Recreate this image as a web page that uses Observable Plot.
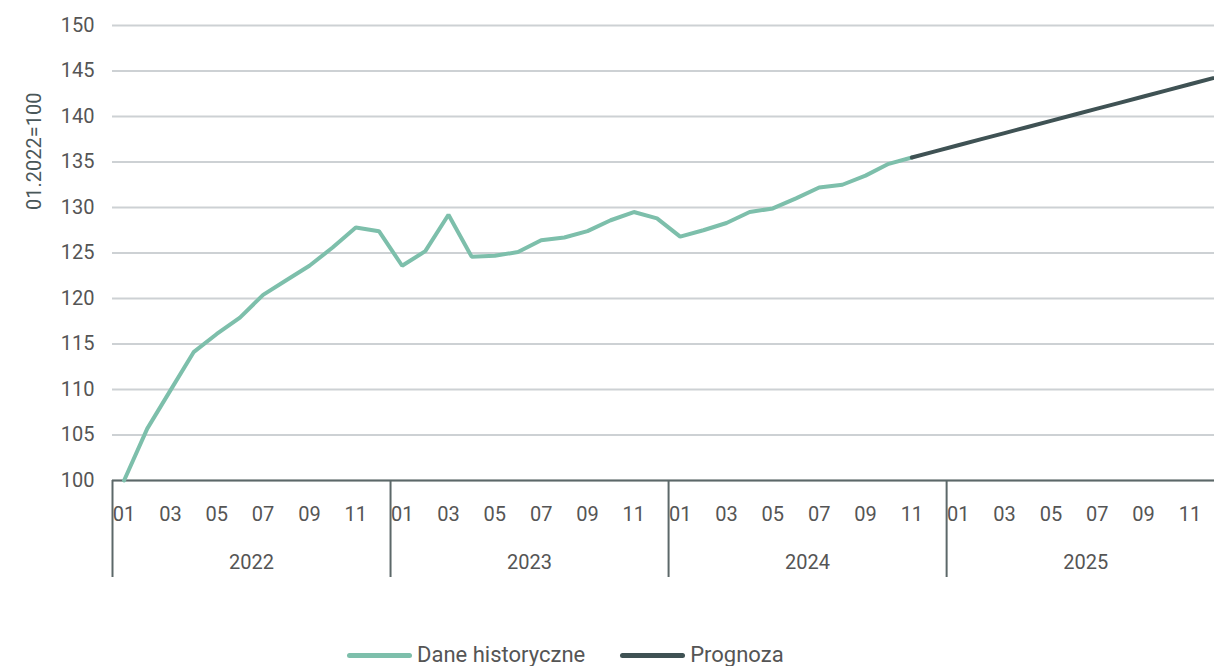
<!DOCTYPE html>
<html>
<head>
<meta charset="utf-8">
<script src="https://cdn.jsdelivr.net/npm/d3@7"></script>
<script src="https://cdn.jsdelivr.net/npm/@observablehq/plot@0.6"></script>
<style>
  html, body { margin: 0; padding: 0; background: #fff; }
  body { width: 1214px; height: 666px; overflow: hidden; font-family: Roboto, "Noto Sans", sans-serif; }
  #legend { position: absolute; left: 347px; top: 642px; display: flex; align-items: center; gap: 35px; font-size: 22px; color: #555; height: 26px; line-height: 26px; }
  .item { display: flex; align-items: center; gap: 5px; }
  .sw { width: 65px; height: 5px; border-radius: 3px; }
</style>
</head>
<body>
<div id="chart"></div>
<div id="legend"></div>
<script>
const monthLabels = ["01","02","03","04","05","06","07","08","09","10","11","12"];
const years = ["2022","2023","2024","2025"];
// Dane historyczne: 01.2022 – 11.2024
const historical = [100, 105.7, 109.9, 114.1, 116.1, 117.9, 120.4, 122.0, 123.6, 125.6, 127.8, 127.4,
                    123.6, 125.2, 129.2, 124.6, 124.7, 125.1, 126.4, 126.7, 127.4, 128.6, 129.5, 128.8,
                    126.8, 127.5, 128.3, 129.5, 129.9, 131.0, 132.2, 132.5, 133.5, 134.8, 135.5];
// Prognoza: 11.2024 – 12.2025
const forecast = [135.5, 136.17, 136.84, 137.51, 138.18, 138.85, 139.52, 140.19, 140.86, 141.53, 142.2, 142.87, 143.54, 144.21];
const seriesNames = ["Dane historyczne", "Prognoza"];
const seriesColors = ["#7dbfab", "#3f5254"];

const nMonths = years.length * 12;
const histData = historical.map((v, i) => ({t: i, v}));
const foreData = forecast.map((v, k) => ({t: historical.length - 1 + k, v}));

const font = "Roboto, 'Noto Sans', sans-serif";
const chart = Plot.plot({
  width: 1214,
  height: 600,
  marginLeft: 112,
  marginRight: 0,
  marginTop: 25,
  marginBottom: 120,
  style: {fontFamily: font, fontSize: "20px", color: "#555", background: "#fff", overflow: "visible"},
  x: {type: "linear", domain: [0, nMonths], range: [112, 112 + nMonths * 23.17]},
  y: {domain: [100, 150]},
  marks: [
    Plot.gridY(d3.range(100, 151, 5), {stroke: "#cdd1d4", strokeOpacity: 1, strokeWidth: 1.8}),
    Plot.axisY({ticks: d3.range(100, 151, 5), tickSize: 0, tickPadding: 18, label: null, fill: "#555"}),
    Plot.text(["01.2022=100"], {frameAnchor: "top-left", rotate: -90, textAnchor: "end", dx: -86, dy: 67, fill: "#4a5759", fontSize: 20}),
    Plot.ruleY([100], {stroke: "#5c6869", strokeWidth: 2}),
    Plot.axisX({ticks: d3.range(0, nMonths + 1, 12), tickSize: 97, tickFormat: () => "", label: null, stroke: "#5c6869", strokeWidth: 2}),
    Plot.axisX({ticks: d3.range(0, nMonths, 2).map(i => i + 0.5), tickSize: 0, tickPadding: 26, label: null,
                tickFormat: t => monthLabels[Math.floor(t) % 12], fill: "#555"}),
    Plot.axisX({ticks: years.map((y, i) => i * 12 + 6), tickSize: 0, tickPadding: 74, label: null,
                tickFormat: t => years[Math.floor(t / 12)], fill: "#555"}),
    Plot.line(histData, {x: d => d.t + 0.5, y: "v", stroke: seriesColors[0], strokeWidth: 4, strokeLinejoin: "miter"}),
    Plot.line(foreData, {x: d => d.t + 0.5, y: "v", stroke: seriesColors[1], strokeWidth: 4})
  ]
});
document.getElementById("chart").appendChild(chart);

const legend = document.getElementById("legend");
seriesNames.forEach((name, i) => {
  const item = document.createElement("div");
  item.className = "item";
  const sw = document.createElement("span");
  sw.className = "sw";
  sw.style.background = seriesColors[i];
  const label = document.createElement("span");
  label.textContent = name;
  item.appendChild(sw);
  item.appendChild(label);
  legend.appendChild(item);
});
</script>
</body>
</html>
